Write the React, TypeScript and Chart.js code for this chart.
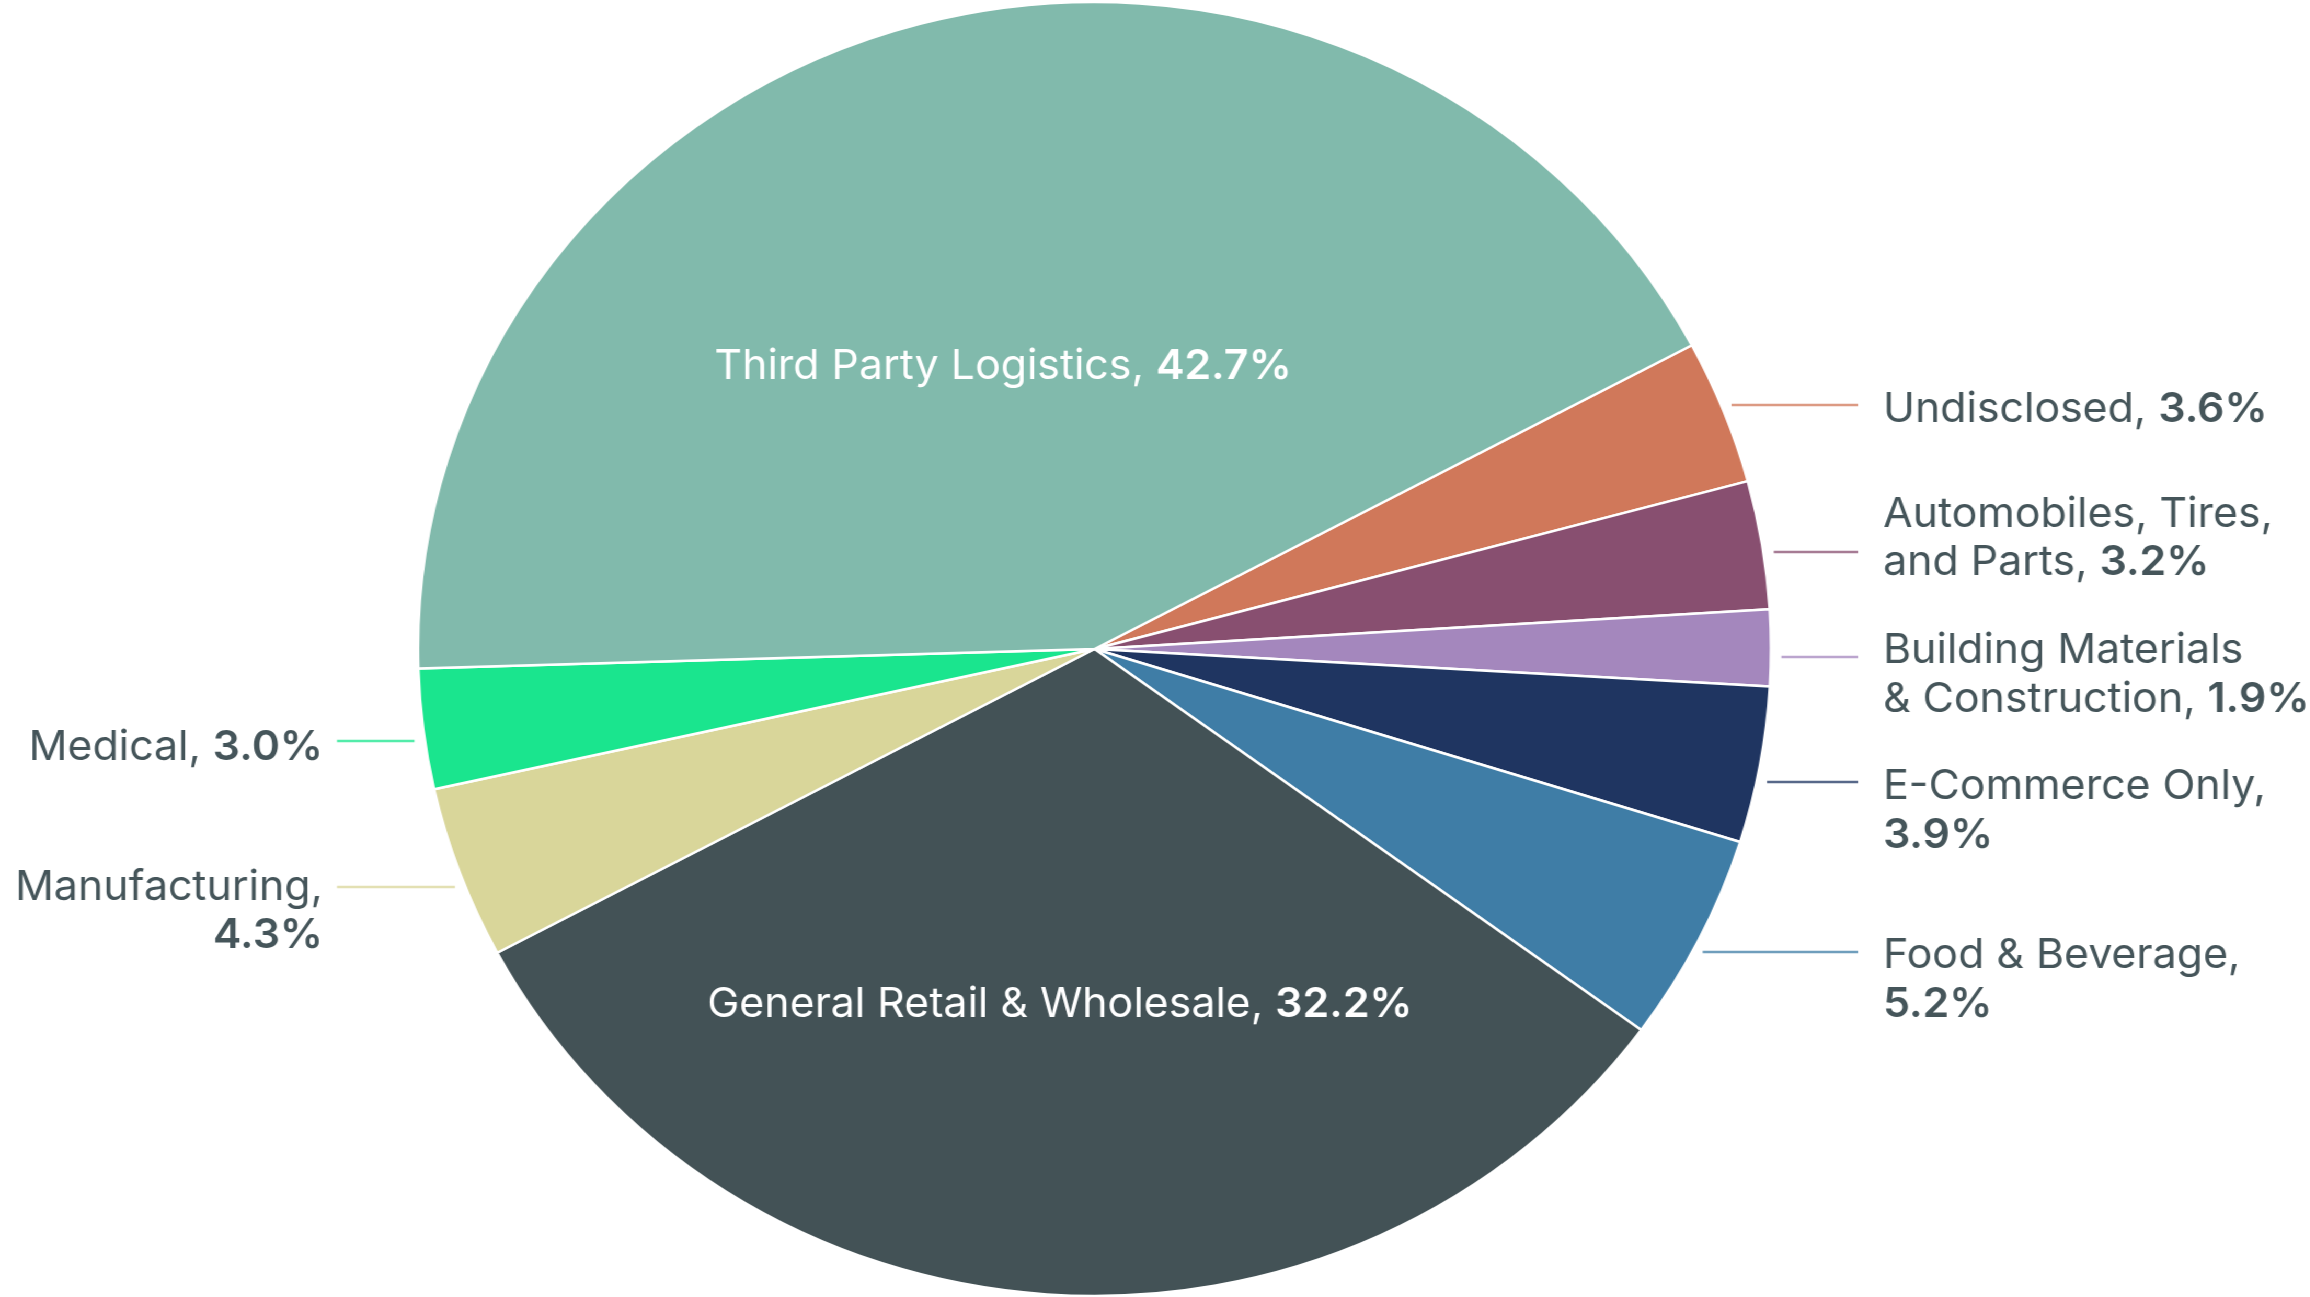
import { useEffect, useRef } from "react";
import { Chart, registerables } from "chart.js";

Chart.register(...registerables);

// ---------- data ----------
const categories = [
  "Undisclosed",
  "Automobiles, Tires, and Parts",
  "Building Materials & Construction",
  "E-Commerce Only",
  "Food & Beverage",
  "General Retail & Wholesale",
  "Manufacturing",
  "Medical",
  "Third Party Logistics",
];
const shares = [3.6, 3.2, 1.9, 3.9, 5.2, 32.2, 4.3, 3.0, 42.7];
const sliceColors = [
  "#D0785A",
  "#884F70",
  "#A487BD",
  "#1F3561",
  "#3F7DA6",
  "#435256",
  "#D9D69A",
  "#1AE58E",
  "#81BAAC",
];

// ---------- label layout (reference pixel coordinates) ----------
type LabelLayout = {
  side: "right" | "left" | "inside";
  lines: string[]; // name text split into lines
  pctOwnLine: boolean;
  x: number; // text anchor x
  baselines: number[];
  leaderY?: number;
  leaderEnd?: number;
};
const labelLayout: LabelLayout[] = [
  { side: "right", lines: ["Undisclosed,"], pctOwnLine: false, x: 1883, baselines: [422], leaderY: 405, leaderEnd: 1858 },
  { side: "right", lines: ["Automobiles, Tires,", "and Parts,"], pctOwnLine: false, x: 1883, baselines: [527, 575], leaderY: 552, leaderEnd: 1858 },
  { side: "right", lines: ["Building Materials", "& Construction,"], pctOwnLine: false, x: 1883, baselines: [663, 712], leaderY: 657, leaderEnd: 1858 },
  { side: "right", lines: ["E-Commerce Only,"], pctOwnLine: true, x: 1883, baselines: [799, 848], leaderY: 782, leaderEnd: 1858 },
  { side: "right", lines: ["Food & Beverage,"], pctOwnLine: true, x: 1883, baselines: [968, 1017], leaderY: 952, leaderEnd: 1858 },
  { side: "inside", lines: ["General Retail & Wholesale,"], pctOwnLine: false, x: 1060, baselines: [1017] },
  { side: "left", lines: ["Manufacturing,"], pctOwnLine: true, x: 323, baselines: [900, 948], leaderY: 887, leaderEnd: 337 },
  { side: "left", lines: ["Medical,"], pctOwnLine: false, x: 323, baselines: [760], leaderY: 741, leaderEnd: 337 },
  { side: "inside", lines: ["Third Party Logistics,"], pctOwnLine: false, x: 1003, baselines: [379] },
];

const STRETCH = 1.0456; // the reference is horizontally stretched
const PAGE_W = 2310;
const PAGE_H = 1297;
const CANVAS_W = Math.round(PAGE_W / STRETCH);
const CENTER_X_REF = 1094.5;
const RADIUS = 647;
const FONT_FAMILY = "Inter, Roboto, 'Noto Sans', sans-serif";
const FONT_SIZE = 41;
const TEXT_COLOR = "#45555A";
const LEADER_GAP = 10;

function withAlpha(hex: string, a: number) {
  const n = parseInt(hex.slice(1), 16);
  return `rgba(${(n >> 16) & 255}, ${(n >> 8) & 255}, ${n & 255}, ${a})`;
}

const labelPlugin = {
  id: "sliceLabels",
  afterDraw(chart: any) {
    const ctx: CanvasRenderingContext2D = chart.ctx;
    const meta = chart.getDatasetMeta(0);
    const arc0 = meta.data[0];
    const cx = arc0.x;
    const cy = arc0.y;
    const r = arc0.outerRadius;
    const normal = `400 ${FONT_SIZE}px ${FONT_FAMILY}`;
    const bold = `600 ${FONT_SIZE}px ${FONT_FAMILY}`;
    ctx.save();
    ctx.textBaseline = "alphabetic";
    ctx.textAlign = "left";
    labelLayout.forEach((lay, i) => {
      const pct = shares[i].toFixed(1) + "%";
      const color = lay.side === "inside" ? "#FFFFFF" : TEXT_COLOR;
      // leader line
      if (lay.leaderY !== undefined && lay.leaderEnd !== undefined) {
        const dy = lay.leaderY - cy;
        const half = Math.sqrt(Math.max(r * r - dy * dy, 0));
        const dir = lay.side === "right" ? 1 : -1;
        const xs = cx + dir * (half + LEADER_GAP);
        const xe = lay.leaderEnd / STRETCH;
        ctx.strokeStyle = withAlpha(sliceColors[i], 0.75);
        ctx.lineWidth = 2.5;
        ctx.beginPath();
        ctx.moveTo(xs, lay.leaderY);
        ctx.lineTo(xe, lay.leaderY);
        ctx.stroke();
      }
      // text lines
      const rows: { n: string; b: string }[] = lay.lines.map((t) => ({ n: t, b: "" }));
      if (lay.pctOwnLine) rows.push({ n: "", b: pct });
      else rows[rows.length - 1] = { n: rows[rows.length - 1].n + " ", b: pct };
      rows.forEach((row, k) => {
        ctx.font = normal;
        const wn = ctx.measureText(row.n).width;
        ctx.font = bold;
        const wb = ctx.measureText(row.b).width;
        const total = wn + wb;
        const ax = lay.x / STRETCH;
        let x0 = ax;
        if (lay.side === "left") x0 = ax - total;
        else if (lay.side === "inside") x0 = ax - total / 2;
        const y = lay.baselines[k];
        ctx.fillStyle = color;
        ctx.font = normal;
        ctx.fillText(row.n, x0, y);
        ctx.font = bold;
        ctx.fillText(row.b, x0 + wn, y);
      });
    });
    ctx.restore();
  },
};

export default function App() {
  const ref = useRef<HTMLCanvasElement | null>(null);
  useEffect(() => {
    if (!ref.current) return;
    const centerX = CENTER_X_REF / STRETCH;
    const chart = new Chart(ref.current, {
      type: "pie",
      data: {
        labels: categories,
        datasets: [
          {
            data: shares,
            backgroundColor: sliceColors,
            borderColor: "#FFFFFF",
            borderWidth: 2.5,
            rotation: 62,
            radius: RADIUS,
          } as any,
        ],
      },
      options: {
        animation: false,
        responsive: true,
        maintainAspectRatio: false,
        layout: {
          padding: { left: 0, right: CANVAS_W - 2 * centerX, top: 2, bottom: 1 },
        },
        plugins: {
          legend: { display: false },
          tooltip: { enabled: false },
        },
      },
      plugins: [labelPlugin],
    });
    return () => chart.destroy();
  }, []);
  return (
    <div
      style={{
        position: "absolute",
        left: 0,
        top: 0,
        width: CANVAS_W,
        height: PAGE_H,
        transform: `scaleX(${STRETCH})`,
        transformOrigin: "0 0",
        background: "#FFFFFF",
      }}
    >
      <canvas ref={ref} />
    </div>
  );
}
